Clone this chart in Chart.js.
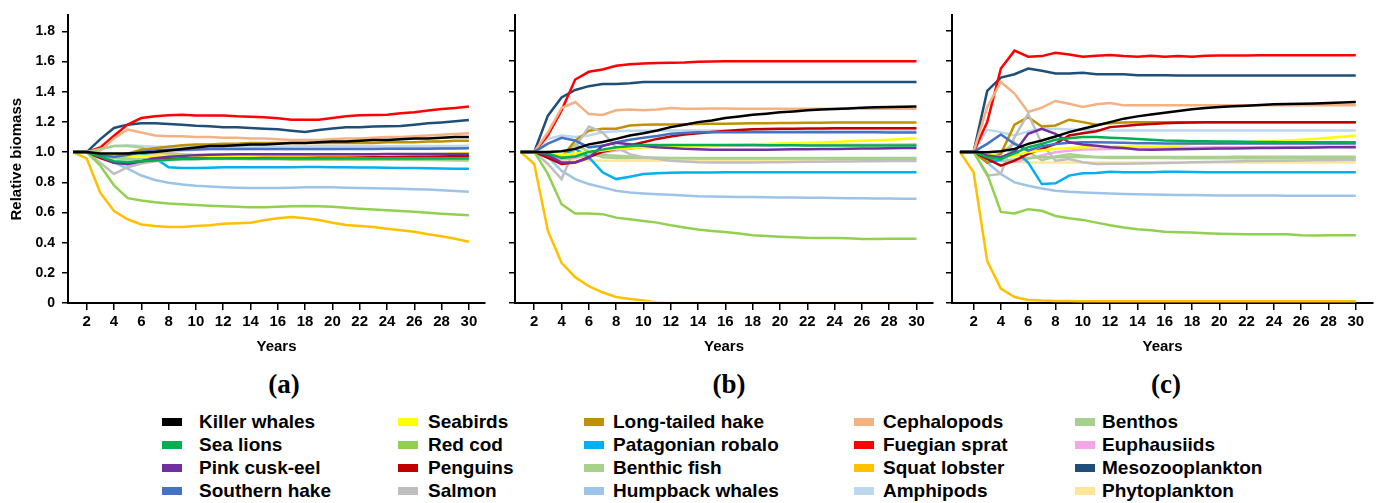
<!DOCTYPE html>
<html>
<head>
<meta charset="utf-8">
<script src="https://cdn.jsdelivr.net/npm/chart.js@4/dist/chart.umd.min.js"></script>
<style>
  body { margin: 0; width: 1383px; height: 503px; background: #fff; position: relative; overflow: hidden;
         font-family: "Liberation Sans", Arial, sans-serif; }
  canvas { position: absolute; top: 0; }
  .tag { position: absolute; top: 368px; width: 60px; margin-left: -30px; text-align: center;
         font: bold 27px "Liberation Serif", serif; line-height: 32px; }
  .box { position: absolute; width: 20px; height: 8px; }
  .lbl { position: absolute; font: bold 19px "Liberation Sans", Arial, sans-serif; line-height: 22px; white-space: nowrap; }
</style>
</head>
<body>
<canvas id="chartA" width="495" height="360" style="left:0px"></canvas>
<canvas id="chartB" width="445" height="360" style="left:495px"></canvas>
<canvas id="chartC" width="443" height="360" style="left:940px"></canvas>
<div class="tag" style="left:284px">(a)</div>
<div class="tag" style="left:729px">(b)</div>
<div class="tag" style="left:1166px">(c)</div>
<div id="legend"></div>
<script>
// Years and ticks
const years = [1,2,3,4,5,6,7,8,9,10,11,12,13,14,15,16,17,18,19,20,21,22,23,24,25,26,27,28,29,30];
const yearTicks = [2,4,6,8,10,12,14,16,18,20,22,24,26,28,30];
const biomassTicks = [0,0.2,0.4,0.6,0.8,1.0,1.2,1.4,1.6,1.8];

const species = ["Killer whales","Sea lions","Pink cusk-eel","Southern hake","Seabirds","Red cod","Penguins","Salmon",
  "Long-tailed hake","Patagonian robalo","Benthic fish","Humpback whales","Cephalopods","Fuegian sprat","Squat lobster",
  "Amphipods","Benthos","Euphausiids","Mesozooplankton","Phytoplankton"];
const colors = ["#000000","#00B050","#7030A0","#4472C4","#FFFF00","#92D050","#C00000","#BFBFBF",
  "#BF9000","#00B0F0","#A9D18E","#9DC3E6","#F4B183","#FF0000","#FFC000",
  "#BDD7EE","#A8D08D","#F4A6E8","#1F4E79","#FFE699"];

// Panel (a)
const a_killerWhales = [1.0,1.0,0.99,0.99,0.99,0.995,1.0,1.01,1.02,1.03,1.04,1.04,1.045,1.05,1.05,1.055,1.06,1.06,1.065,1.07,1.07,1.075,1.08,1.08,1.085,1.09,1.09,1.095,1.1,1.1];
const a_seaLions = [1.0,1.0,0.97,0.94,0.935,0.94,0.945,0.95,0.955,0.955,0.957,0.957,0.958,0.958,0.958,0.958,0.958,0.958,0.958,0.957,0.957,0.957,0.957,0.957,0.957,0.957,0.957,0.957,0.957,0.957];
const a_pinkCuskEel = [1.0,1.0,0.97,0.93,0.92,0.94,0.96,0.97,0.975,0.98,0.982,0.984,0.985,0.985,0.985,0.986,0.986,0.986,0.986,0.986,0.986,0.986,0.986,0.987,0.987,0.987,0.987,0.988,0.988,0.988];
const a_southernHake = [1.0,1.0,0.98,0.97,0.98,1.0,1.01,1.015,1.015,1.018,1.02,1.02,1.02,1.02,1.02,1.02,1.02,1.02,1.02,1.02,1.02,1.02,1.02,1.022,1.022,1.022,1.022,1.024,1.024,1.025];
const a_seabirds = [1.0,1.0,0.99,0.98,0.975,0.975,0.975,0.975,0.975,0.975,0.975,0.975,0.976,0.976,0.977,0.977,0.978,0.978,0.979,0.98,0.98,0.981,0.982,0.983,0.984,0.985,0.986,0.988,0.99,0.992];
const a_redCod = [1.0,1.0,0.91,0.78,0.695,0.68,0.668,0.66,0.655,0.65,0.645,0.642,0.638,0.635,0.635,0.638,0.642,0.643,0.642,0.638,0.632,0.625,0.62,0.615,0.61,0.605,0.598,0.592,0.587,0.582];
const a_penguins = [1.0,1.0,0.96,0.93,0.93,0.94,0.95,0.955,0.96,0.962,0.964,0.966,0.968,0.97,0.97,0.972,0.972,0.973,0.973,0.974,0.974,0.974,0.975,0.975,0.975,0.975,0.975,0.975,0.975,0.975];
const a_salmon = [1.0,1.0,0.93,0.855,0.9,0.925,0.94,0.947,0.952,0.955,0.956,0.958,0.958,0.96,0.96,0.96,0.96,0.96,0.96,0.96,0.96,0.96,0.96,0.96,0.96,0.96,0.96,0.96,0.96,0.96];
const a_longTailedHake = [1.0,1.0,0.98,0.98,0.99,1.015,1.025,1.035,1.045,1.05,1.05,1.055,1.055,1.06,1.06,1.06,1.06,1.06,1.06,1.06,1.06,1.06,1.06,1.065,1.065,1.065,1.07,1.07,1.075,1.075];
const a_robalo = [1.0,1.0,0.98,0.97,0.99,0.99,0.96,0.9,0.895,0.895,0.897,0.9,0.9,0.9,0.9,0.9,0.9,0.902,0.902,0.9,0.9,0.898,0.898,0.896,0.895,0.895,0.893,0.892,0.89,0.89];
const a_benthicFish = [1.0,1.0,1.02,1.04,1.04,1.03,1.0,0.99,0.985,0.98,0.975,0.975,0.972,0.97,0.97,0.97,0.97,0.97,0.97,0.968,0.967,0.966,0.966,0.965,0.965,0.965,0.965,0.965,0.964,0.963];
const a_humpback = [1.0,1.0,0.97,0.93,0.89,0.845,0.815,0.797,0.785,0.777,0.772,0.767,0.764,0.762,0.762,0.762,0.764,0.767,0.767,0.767,0.764,0.762,0.76,0.759,0.757,0.754,0.752,0.747,0.742,0.737];
const a_cephalopods = [1.0,1.0,1.01,1.09,1.15,1.13,1.11,1.105,1.105,1.1,1.1,1.095,1.095,1.09,1.09,1.085,1.08,1.08,1.08,1.085,1.09,1.09,1.095,1.1,1.1,1.105,1.11,1.115,1.12,1.125];
const a_fuegianSprat = [1.0,1.0,1.031,1.109,1.182,1.226,1.237,1.244,1.248,1.242,1.242,1.242,1.237,1.235,1.231,1.224,1.215,1.215,1.215,1.226,1.237,1.244,1.246,1.248,1.257,1.264,1.275,1.286,1.293,1.302];
const a_squatLobster = [1.0,0.958,0.73,0.61,0.555,0.52,0.51,0.503,0.503,0.51,0.515,0.525,0.528,0.532,0.548,0.561,0.57,0.561,0.55,0.532,0.517,0.51,0.503,0.492,0.482,0.472,0.455,0.443,0.426,0.406];
const a_amphipods = [1.0,1.0,1.02,1.04,1.045,1.04,1.035,1.035,1.035,1.035,1.035,1.036,1.036,1.036,1.037,1.037,1.037,1.038,1.038,1.038,1.038,1.039,1.039,1.039,1.04,1.04,1.04,1.041,1.041,1.042];
const a_benthos = [1.0,1.0,0.98,0.96,0.955,0.955,0.955,0.955,0.955,0.955,0.955,0.955,0.955,0.952,0.952,0.952,0.95,0.95,0.95,0.95,0.95,0.95,0.95,0.95,0.95,0.948,0.948,0.946,0.945,0.945];
const a_euphausiids = [1.0,1.0,0.99,0.97,0.97,0.98,0.99,1.0,1.01,1.015,1.02,1.02,1.02,1.02,1.02,1.02,1.02,1.02,1.02,1.02,1.022,1.022,1.022,1.024,1.025,1.025,1.026,1.028,1.03,1.03];
const a_mesozooplankton = [1.0,1.0,1.086,1.16,1.182,1.191,1.191,1.186,1.182,1.175,1.171,1.164,1.164,1.16,1.155,1.151,1.142,1.133,1.146,1.157,1.164,1.164,1.169,1.171,1.173,1.182,1.191,1.197,1.204,1.213];
const a_phytoplankton = [1.0,1.0,0.99,0.985,0.985,0.985,0.985,0.985,0.985,0.985,0.985,0.984,0.984,0.984,0.983,0.983,0.983,0.982,0.982,0.982,0.981,0.981,0.98,0.98,0.98,0.979,0.979,0.978,0.978,0.977];

// Panel (b)
const b_killerWhales = [1.0,1.0,1.0,1.005,1.02,1.05,1.065,1.086,1.109,1.124,1.142,1.164,1.18,1.197,1.208,1.224,1.235,1.246,1.253,1.262,1.268,1.275,1.28,1.284,1.288,1.293,1.295,1.297,1.298,1.3];
const b_seaLions = [1.0,1.0,0.99,0.96,0.97,1.0,1.015,1.03,1.038,1.045,1.045,1.046,1.046,1.046,1.046,1.045,1.045,1.045,1.044,1.044,1.044,1.043,1.043,1.043,1.042,1.042,1.042,1.042,1.042,1.042];
const b_pinkCuskEel = [1.0,1.0,0.98,0.93,0.93,0.96,1.04,1.06,1.05,1.04,1.03,1.025,1.02,1.017,1.015,1.015,1.015,1.015,1.015,1.016,1.017,1.018,1.019,1.02,1.021,1.022,1.023,1.024,1.025,1.026];
const b_southernHake = [1.0,1.0,1.055,1.093,1.075,1.03,1.04,1.064,1.08,1.093,1.105,1.12,1.125,1.13,1.13,1.13,1.13,1.13,1.13,1.13,1.13,1.13,1.13,1.13,1.13,1.13,1.13,1.128,1.128,1.128];
const b_seabirds = [1.0,1.0,0.99,0.98,0.99,1.0,1.01,1.02,1.025,1.03,1.032,1.035,1.037,1.04,1.042,1.045,1.048,1.05,1.053,1.055,1.058,1.06,1.063,1.066,1.07,1.073,1.077,1.081,1.085,1.09];
const b_redCod = [1.0,1.0,0.854,0.654,0.592,0.592,0.588,0.565,0.554,0.543,0.532,0.514,0.499,0.486,0.477,0.47,0.46,0.448,0.443,0.439,0.435,0.432,0.431,0.43,0.428,0.423,0.423,0.425,0.426,0.426];
const b_penguins = [1.0,1.0,0.96,0.92,0.93,0.965,1.0,1.02,1.043,1.064,1.086,1.102,1.115,1.124,1.131,1.138,1.145,1.15,1.152,1.153,1.154,1.155,1.155,1.156,1.156,1.157,1.157,1.157,1.157,1.157];
const b_salmon = [1.0,1.0,0.92,0.82,1.03,1.168,1.13,1.03,0.985,0.965,0.954,0.942,0.936,0.931,0.93,0.93,0.93,0.93,0.931,0.932,0.933,0.934,0.935,0.936,0.937,0.938,0.938,0.939,0.94,0.94];
const b_longTailedHake = [1.0,1.0,0.99,0.965,1.075,1.14,1.153,1.153,1.175,1.18,1.181,1.182,1.183,1.185,1.186,1.187,1.188,1.19,1.19,1.191,1.192,1.193,1.193,1.194,1.194,1.195,1.195,1.195,1.195,1.195];
const b_robalo = [1.0,1.0,0.99,0.97,1.02,0.965,0.865,0.82,0.836,0.854,0.858,0.862,0.863,0.864,0.864,0.865,0.866,0.866,0.866,0.866,0.865,0.865,0.865,0.865,0.865,0.865,0.865,0.865,0.865,0.865];
const b_benthicFish = [1.0,1.0,0.98,0.97,1.05,1.0,0.965,0.96,0.96,0.96,0.96,0.958,0.958,0.957,0.957,0.957,0.957,0.957,0.956,0.956,0.956,0.956,0.956,0.955,0.955,0.955,0.955,0.955,0.955,0.955];
const b_humpback = [1.0,1.0,0.965,0.875,0.82,0.787,0.765,0.743,0.732,0.725,0.72,0.716,0.712,0.707,0.705,0.703,0.702,0.701,0.7,0.699,0.698,0.697,0.696,0.695,0.694,0.693,0.692,0.691,0.69,0.69];
const b_cephalopods = [1.0,1.0,1.13,1.29,1.33,1.25,1.245,1.275,1.28,1.275,1.28,1.29,1.285,1.286,1.288,1.287,1.286,1.286,1.286,1.286,1.286,1.286,1.286,1.286,1.286,1.286,1.286,1.286,1.286,1.286];
const b_fuegianSprat = [1.0,1.0,1.11,1.275,1.479,1.53,1.545,1.57,1.58,1.585,1.588,1.59,1.592,1.596,1.598,1.6,1.6,1.6,1.6,1.6,1.6,1.6,1.6,1.6,1.6,1.6,1.6,1.6,1.6,1.6];
const b_squatLobster = [1.0,0.92,0.477,0.266,0.171,0.111,0.071,0.04,0.027,0.016,0.004,0,0,0,0,0,0,0,0,0,0,0,0,0,0,0,0,0,0,0];
const b_amphipods = [1.0,1.0,1.086,1.109,1.098,1.109,1.13,1.137,1.14,1.14,1.14,1.141,1.141,1.141,1.141,1.141,1.141,1.141,1.141,1.141,1.141,1.141,1.141,1.141,1.141,1.141,1.141,1.141,1.141,1.141];
const b_benthos = [1.0,1.0,0.99,0.97,0.97,0.975,0.98,0.975,0.97,0.965,0.962,0.96,0.96,0.96,0.96,0.96,0.96,0.96,0.96,0.96,0.96,0.96,0.96,0.96,0.96,0.96,0.96,0.96,0.96,0.96];
const b_euphausiids = [1.0,1.0,0.98,0.95,0.96,0.98,0.995,1.01,1.02,1.03,1.033,1.035,1.037,1.038,1.039,1.04,1.041,1.042,1.043,1.044,1.045,1.046,1.046,1.047,1.047,1.048,1.048,1.049,1.049,1.05];
const b_mesozooplankton = [1.0,1.0,1.24,1.36,1.41,1.435,1.45,1.45,1.455,1.463,1.463,1.463,1.463,1.463,1.463,1.463,1.463,1.463,1.463,1.463,1.463,1.463,1.463,1.463,1.463,1.463,1.463,1.463,1.463,1.463];
const b_phytoplankton = [1.0,1.0,0.97,0.95,0.945,0.943,0.942,0.942,0.942,0.942,0.942,0.942,0.942,0.942,0.942,0.942,0.942,0.942,0.942,0.942,0.942,0.942,0.942,0.942,0.942,0.942,0.942,0.942,0.942,0.942];

// Panel (c)
const c_killerWhales = [1.0,1.0,0.998,1.004,1.02,1.053,1.075,1.102,1.131,1.153,1.175,1.197,1.22,1.235,1.248,1.259,1.27,1.282,1.29,1.297,1.302,1.306,1.31,1.315,1.317,1.319,1.321,1.324,1.327,1.33];
const c_seaLions = [1.0,1.0,0.965,0.955,0.99,1.031,1.053,1.08,1.09,1.098,1.098,1.093,1.09,1.086,1.08,1.075,1.073,1.071,1.07,1.069,1.068,1.067,1.066,1.065,1.064,1.064,1.064,1.064,1.064,1.064];
const c_pinkCuskEel = [1.0,1.0,0.976,0.965,0.998,1.12,1.153,1.12,1.064,1.049,1.04,1.031,1.025,1.016,1.015,1.016,1.018,1.02,1.021,1.022,1.023,1.024,1.025,1.026,1.027,1.028,1.029,1.03,1.031,1.031];
const c_southernHake = [1.0,1.0,1.053,1.115,1.053,1.009,1.038,1.053,1.06,1.064,1.064,1.062,1.06,1.058,1.057,1.056,1.055,1.055,1.055,1.055,1.055,1.055,1.055,1.055,1.055,1.055,1.055,1.055,1.055,1.055];
const c_seabirds = [1.0,1.0,0.99,0.965,0.975,1.0,1.01,1.02,1.025,1.031,1.033,1.035,1.035,1.035,1.036,1.038,1.043,1.053,1.056,1.058,1.061,1.064,1.068,1.071,1.076,1.08,1.086,1.093,1.1,1.109];
const c_redCod = [1.0,1.0,0.854,0.603,0.592,0.621,0.61,0.576,0.561,0.55,0.532,0.514,0.499,0.488,0.481,0.472,0.469,0.466,0.462,0.459,0.457,0.455,0.455,0.455,0.455,0.448,0.447,0.448,0.448,0.448];
const c_penguins = [1.0,1.0,0.953,0.909,0.942,0.987,1.02,1.053,1.109,1.124,1.137,1.164,1.172,1.18,1.185,1.19,1.193,1.195,1.197,1.197,1.197,1.197,1.197,1.197,1.197,1.197,1.197,1.197,1.197,1.197];
const c_salmon = [1.0,1.0,0.843,0.854,1.098,1.253,1.053,0.942,0.953,0.931,0.92,0.922,0.922,0.924,0.925,0.927,0.929,0.931,0.933,0.935,0.937,0.939,0.94,0.941,0.942,0.943,0.944,0.945,0.946,0.947];
const c_longTailedHake = [1.0,1.0,0.93,0.987,1.18,1.23,1.168,1.175,1.213,1.197,1.18,1.19,1.195,1.197,1.197,1.197,1.197,1.197,1.197,1.197,1.197,1.197,1.197,1.197,1.197,1.197,1.197,1.197,1.197,1.197];
const c_robalo = [1.0,1.0,0.93,0.947,1.015,0.93,0.787,0.792,0.843,0.858,0.86,0.869,0.866,0.865,0.866,0.868,0.868,0.867,0.866,0.866,0.865,0.865,0.865,0.865,0.865,0.865,0.865,0.865,0.865,0.865];
const c_benthicFish = [1.0,1.0,0.97,0.99,1.06,1.0,0.945,0.97,0.985,0.975,0.965,0.96,0.96,0.959,0.959,0.959,0.958,0.958,0.958,0.958,0.958,0.958,0.958,0.958,0.958,0.958,0.958,0.958,0.958,0.958];
const c_humpback = [1.0,1.0,0.93,0.854,0.798,0.776,0.758,0.743,0.736,0.732,0.728,0.725,0.722,0.72,0.718,0.716,0.715,0.714,0.713,0.712,0.712,0.711,0.711,0.711,0.71,0.71,0.71,0.71,0.71,0.71];
const c_cephalopods = [1.0,1.0,1.297,1.463,1.386,1.264,1.293,1.337,1.319,1.297,1.315,1.324,1.308,1.308,1.308,1.308,1.308,1.308,1.308,1.308,1.308,1.308,1.308,1.308,1.308,1.308,1.308,1.308,1.308,1.308];
const c_fuegianSprat = [1.0,1.0,1.197,1.552,1.67,1.63,1.634,1.656,1.645,1.63,1.636,1.641,1.634,1.63,1.636,1.63,1.634,1.63,1.636,1.638,1.638,1.638,1.639,1.639,1.639,1.639,1.639,1.639,1.639,1.639];
const c_squatLobster = [1.0,0.865,0.277,0.095,0.04,0.02,0.016,0.014,0.013,0.012,0.012,0.011,0.011,0.011,0.011,0.011,0.011,0.011,0.011,0.011,0.011,0.011,0.011,0.011,0.011,0.011,0.011,0.011,0.011,0.011];
const c_amphipods = [1.0,1.0,1.146,1.131,1.109,1.135,1.153,1.153,1.148,1.145,1.143,1.142,1.142,1.142,1.142,1.142,1.142,1.142,1.142,1.142,1.142,1.142,1.142,1.142,1.142,1.142,1.142,1.142,1.142,1.142];
const c_benthos = [1.0,1.0,0.96,0.94,0.95,0.96,0.965,0.965,0.966,0.966,0.967,0.967,0.967,0.967,0.967,0.967,0.967,0.967,0.967,0.967,0.968,0.968,0.968,0.968,0.968,0.968,0.968,0.968,0.968,0.968];
const c_euphausiids = [1.0,1.0,0.965,0.942,0.936,0.955,0.976,0.998,1.008,1.016,1.018,1.02,1.022,1.024,1.025,1.026,1.027,1.028,1.029,1.03,1.03,1.031,1.031,1.032,1.032,1.033,1.033,1.034,1.034,1.035];
const c_mesozooplankton = [1.0,1.0,1.404,1.492,1.514,1.552,1.537,1.519,1.519,1.523,1.514,1.514,1.514,1.508,1.507,1.507,1.506,1.506,1.506,1.506,1.506,1.506,1.506,1.506,1.506,1.506,1.506,1.506,1.506,1.506];
const c_phytoplankton = [1.0,1.0,0.97,0.94,0.935,0.93,0.93,0.93,0.93,0.93,0.93,0.93,0.93,0.93,0.93,0.93,0.93,0.93,0.93,0.93,0.93,0.93,0.93,0.93,0.93,0.93,0.93,0.93,0.93,0.93];

// same order as species[]
const panelA = [a_killerWhales,a_seaLions,a_pinkCuskEel,a_southernHake,a_seabirds,a_redCod,a_penguins,a_salmon,
  a_longTailedHake,a_robalo,a_benthicFish,a_humpback,a_cephalopods,a_fuegianSprat,a_squatLobster,
  a_amphipods,a_benthos,a_euphausiids,a_mesozooplankton,a_phytoplankton];
const panelB = [b_killerWhales,b_seaLions,b_pinkCuskEel,b_southernHake,b_seabirds,b_redCod,b_penguins,b_salmon,
  b_longTailedHake,b_robalo,b_benthicFish,b_humpback,b_cephalopods,b_fuegianSprat,b_squatLobster,
  b_amphipods,b_benthos,b_euphausiids,b_mesozooplankton,b_phytoplankton];
const panelC = [c_killerWhales,c_seaLions,c_pinkCuskEel,c_southernHake,c_seabirds,c_redCod,c_penguins,c_salmon,
  c_longTailedHake,c_robalo,c_benthicFish,c_humpback,c_cephalopods,c_fuegianSprat,c_squatLobster,
  c_amphipods,c_benthos,c_euphausiids,c_mesozooplankton,c_phytoplankton];

Chart.defaults.font.family = '"Liberation Sans", Arial, sans-serif';
Chart.defaults.color = "#000";

function drawPanel(id, series, yWidth, xMin, xMax, padRight, withLabels, clipBottom) {
  new Chart(document.getElementById(id), {
    type: "line",
    data: {
      datasets: series.map((vals, i) => ({
        label: species[i],
        data: vals.map((v, k) => ({ x: years[k], y: v })),
        borderColor: colors[i],
        backgroundColor: colors[i],
        borderWidth: 2.5,
        pointRadius: 0,
        tension: 0,
        clip: { left: false, top: false, right: false, bottom: clipBottom },
      })),
    },
    options: {
      responsive: false,
      animation: false,
      layout: { padding: { top: 15, right: padRight, left: 0, bottom: 0 } },
      plugins: { legend: { display: false }, tooltip: { enabled: false } },
      scales: {
        x: {
          type: "linear",
          min: xMin,
          max: xMax,
          z: 1,
          afterBuildTicks: (s) => { s.ticks = yearTicks.map((v) => ({ value: v })); },
          afterFit: (s) => { s.height = 57; },
          grid: { drawOnChartArea: false, drawTicks: true, tickLength: 7, color: "#000", lineWidth: 1.5 },
          border: { display: true, color: "#000", width: 2 },
          ticks: { font: { size: 15, weight: "bold" }, padding: 3, maxRotation: 0, autoSkip: false },
          title: { display: true, text: "Years", font: { size: 15, weight: "bold" }, padding: { top: 2, bottom: 4 } },
        },
        y: {
          min: 0,
          max: 1.906,
          afterBuildTicks: (s) => { s.ticks = biomassTicks.map((v) => ({ value: v })); },
          afterFit: (s) => { s.width = yWidth; },
          grid: { drawOnChartArea: false, drawTicks: true, tickLength: 6, color: "#000", lineWidth: 1.5 },
          border: { display: true, color: "#000", width: 2 },
          ticks: {
            display: withLabels,
            padding: 7,
            font: { size: 14, weight: "bold" },
            callback: (v) => (v === 0 ? "0" : v.toFixed(1)),
          },
          title: {
            display: withLabels,
            text: "Relative biomass",
            font: { size: 15, weight: "bold" },
            padding: { top: 8, bottom: 0 },
          },
        },
      },
    },
  });
}

drawPanel("chartA", panelA, 68, 0.63, 31.18, 10, true, 3);
drawPanel("chartB", panelB, 20, 0.59, 31.21, 7, false, -1.5);
drawPanel("chartC", panelC, 12, 0.42, 31.26, 10, false, 3);

// legend: 5 columns, 4 rows, filled column by column
const legendBoxX = [162, 398, 584, 854, 1075];
const legendTextX = [199, 428, 613, 883, 1102];
const legendRowY = [422, 445, 468, 491];
const legend = document.getElementById("legend");
species.forEach((name, i) => {
  const col = Math.floor(i / 4), row = i % 4;
  const box = document.createElement("div");
  box.className = "box";
  box.style.left = legendBoxX[col] + "px";
  box.style.top = (legendRowY[row] - 4) + "px";
  box.style.background = colors[i];
  const lbl = document.createElement("div");
  lbl.className = "lbl";
  lbl.style.left = legendTextX[col] + "px";
  lbl.style.top = (legendRowY[row] - 11) + "px";
  lbl.textContent = name;
  legend.appendChild(box);
  legend.appendChild(lbl);
});
</script>
</body>
</html>
